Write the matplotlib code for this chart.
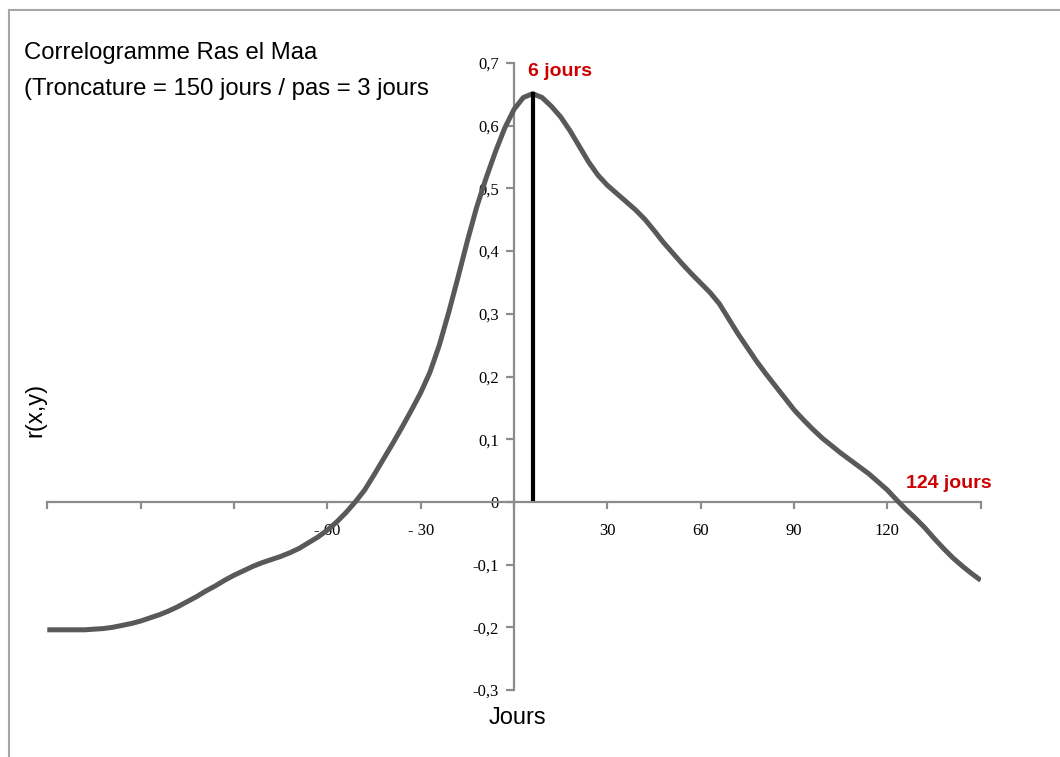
import numpy as np
import matplotlib.pyplot as plt
from matplotlib.lines import Line2D

# Correlogram values (lag in days, step 3 days, r(x,y))
lags = list(range(-150, 151, 3))
r_xy = [
    -0.204, -0.204, -0.204, -0.204, -0.204, -0.203, -0.202, -0.200, -0.197, -0.194,   # -150..-123
    -0.190, -0.185, -0.180, -0.174, -0.167, -0.159, -0.151, -0.142, -0.134, -0.125,   # -120..-93
    -0.117, -0.110, -0.103, -0.097, -0.092, -0.087, -0.081, -0.074, -0.065, -0.056,   # -90..-63
    -0.045, -0.032, -0.017, 0.000, 0.019, 0.043, 0.068, 0.093, 0.119, 0.146,          # -60..-33
    0.174, 0.207, 0.250, 0.302, 0.358, 0.416, 0.470, 0.516, 0.558, 0.596,             # -30..-3
    0.626,                                                                            # 0
    0.645, 0.651, 0.645, 0.631, 0.614, 0.592, 0.567, 0.542, 0.521, 0.505,             # 3..30
    0.492, 0.479, 0.466, 0.451, 0.433, 0.414, 0.397, 0.380, 0.364, 0.349,             # 33..60
    0.334, 0.316, 0.292, 0.268, 0.246, 0.224, 0.204, 0.185, 0.166, 0.147,             # 63..90
    0.131, 0.116, 0.102, 0.090, 0.078, 0.067, 0.056, 0.045, 0.032, 0.019,             # 93..120
    0.003, -0.012, -0.026, -0.041, -0.058, -0.074, -0.089, -0.102, -0.114, -0.125,    # 123..150
]

peak_lag = 6
peak_r = 0.651

x_ticks = list(range(-150, 151, 30))
x_tick_labels = ['', '', '', '- 60', '- 30', '', '30', '60', '90', '120', '']
y_ticks = [-0.3, -0.2, -0.1, 0, 0.1, 0.2, 0.3, 0.4, 0.5, 0.6, 0.7]
y_tick_labels = ['-0,3', '-0,2', '-0,1', '0', '0,1', '0,2', '0,3', '0,4', '0,5', '0,6', '0,7']

W, H = 1060, 757
axis_grey = '#8c8c8c'
curve_grey = '#595959'
red = '#cc0000'
sans = 'Liberation Sans'
serif = 'Liberation Serif'

fig = plt.figure(figsize=(W / 100, H / 100), dpi=100)
fig.patch.set_facecolor('white')
ax = fig.add_axes([47.3 / W, 67 / H, 933.4 / W, 627 / H])

ax.plot(lags, r_xy, color=curve_grey, linewidth=3.6, solid_joinstyle='round',
        solid_capstyle='butt', zorder=3)
ax.plot([peak_lag, peak_lag], [0.005, peak_r], color='black', linewidth=3, zorder=4)

ax.set_xlim(-150, 150)
ax.set_ylim(-0.3, 0.7)

for s in ['top', 'right']:
    ax.spines[s].set_visible(False)
ax.spines['left'].set_position(('data', 0))
ax.spines['bottom'].set_position(('data', 0))
for s in ['left', 'bottom']:
    ax.spines[s].set_color(axis_grey)
    ax.spines[s].set_linewidth(1.6)

ax.set_xticks(x_ticks)
ax.set_xticklabels(x_tick_labels, family=serif, fontsize=12)
ax.set_yticks(y_ticks)
ax.set_yticklabels(y_tick_labels, family=serif, fontsize=12)
ax.tick_params(axis='x', direction='out', length=5, width=1.6, color=axis_grey, pad=10)
ax.tick_params(axis='y', direction='out', length=6, width=1.6, color=axis_grey, pad=5)

ax.text(4.6, 0.686, '6 jours', color=red, fontsize=14, fontweight='bold',
        family=sans, ha='left', va='center')
ax.text(126, 0.030, '124 jours', color=red, fontsize=14, fontweight='bold',
        family=sans, ha='left', va='center')

fig.text(24 / W, 1 - 42 / H, 'Correlogramme Ras el Maa\n(Troncature = 150 jours / pas = 3 jours',
         fontsize=17.2, family=sans, ha='left', va='top', linespacing=1.85)
fig.text(35 / W, 1 - 410 / H, 'r(x,y)', fontsize=17, family=sans, rotation=90,
         ha='center', va='center')
fig.text(517 / W, 1 - 718 / H, 'Jours', fontsize=17, family=sans, ha='center', va='center')

# outer chart frame (only top and left edges visible in the crop)
fig.add_artist(Line2D([8.5 / W, 8.5 / W], [0, 1 - 10 / H], transform=fig.transFigure,
                      color='#a6a6a6', linewidth=1.5))
fig.add_artist(Line2D([8.5 / W, 1], [1 - 10 / H, 1 - 10 / H], transform=fig.transFigure,
                      color='#a6a6a6', linewidth=1.5))

fig.savefig('out.png', dpi=100, facecolor='white')
